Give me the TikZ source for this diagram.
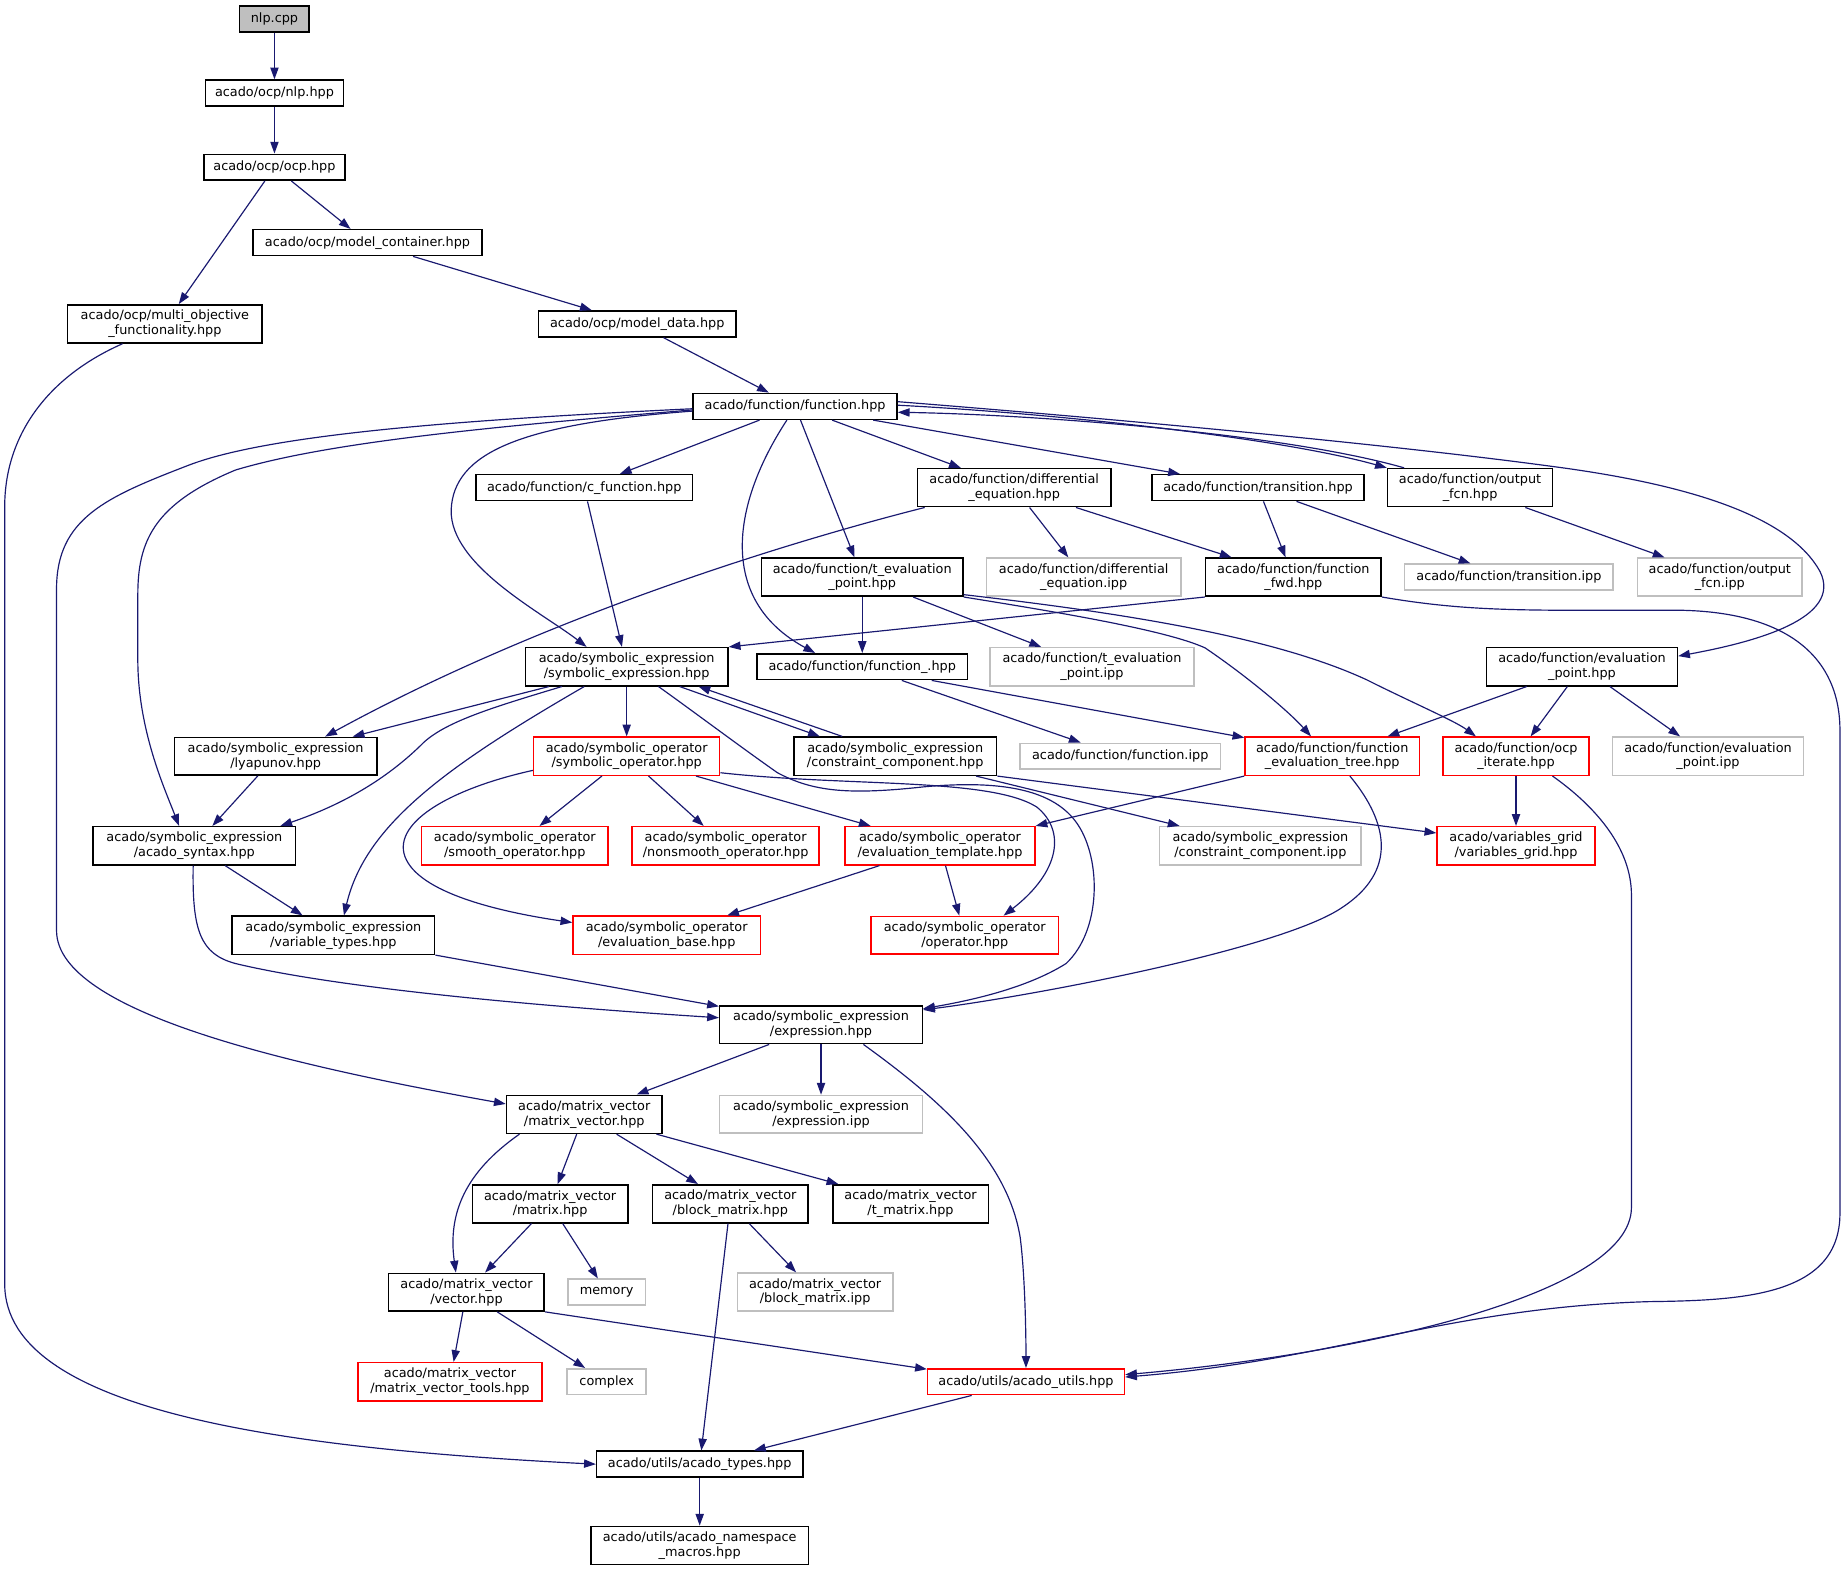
\documentclass[tikz,border=0pt]{standalone}
\usepackage{fontspec}
\setmainfont{DejaVu Sans}
\usetikzlibrary{arrows.meta}
\definecolor{edgeblue}{HTML}{191970}
\definecolor{undoc}{HTML}{BFBFBF}
\definecolor{trunc}{HTML}{FF0000}

\begin{document}
\begin{tikzpicture}[x=1pt, y=-1pt, font=\fontsize{10.9}{12.5}\selectfont,
  hdr/.style={draw=black, line width=1.3pt, align=center, inner xsep=2pt, inner ysep=4.5pt,
    minimum height=22pt, minimum width=#1pt},
  hdrred/.style={hdr=#1, draw=trunc},
  hdrgray/.style={hdr=#1, draw=undoc},
  root/.style={hdr=#1, fill=undoc},
  dep/.style={edgeblue, line width=1pt, -{Triangle[length=10pt,width=7pt]}}]
  \useasboundingbox (0,0) rectangle (1568,1335);
  % files
  \node[root=59] (cpp) at (233,16) {nlp.cpp};
  \node[hdr=117] (nlp) at (233,79) {acado/ocp/nlp.hpp};
  \node[hdr=120] (ocp) at (233,142) {acado/ocp/ocp.hpp};
  \node[hdr=194] (mcont) at (312,206) {acado/ocp/model\_container.hpp};
  \node[hdr=165] (mobj) at (140,275) {acado/ocp/multi\_objective\\\_functionality.hpp};
  \node[hdr=168] (mdata) at (541,275) {acado/ocp/model\_data.hpp};
  \node[hdr=173] (func) at (675,345) {acado/function/function.hpp};
  \node[hdr=184] (cfunc) at (496,414) {acado/function/c\_function.hpp};
  \node[hdr=164] (diffeq) at (861,414) {acado/function/differential\\\_equation.hpp};
  \node[hdr=180] (trans) at (1068,414) {acado/function/transition.hpp};
  \node[hdr=140] (outfcn) at (1248,414) {acado/function/output\\\_fcn.hpp};
  \node[hdrgray=165] (diffipp) at (920,490) {acado/function/differential\\\_equation.ipp};
  \node[hdr=171] (teval) at (732,490) {acado/function/t\_evaluation\\\_point.hpp};
  \node[hdr=149] (ffwd) at (1098,490) {acado/function/function\\\_fwd.hpp};
  \node[hdrgray=177] (transipp) at (1281,490) {acado/function/transition.ipp};
  \node[hdrgray=140] (outipp) at (1460,490) {acado/function/output\\\_fcn.ipp};
  \node[hdr=172] (symexp) at (532,566) {acado/symbolic\_expression\\/symbolic\_expression.hpp};
  \node[hdr=179] (funcu) at (732,566) {acado/function/function\_.hpp};
  \node[hdrgray=173] (tevalipp) at (927,566) {acado/function/t\_evaluation\\\_point.ipp};
  \node[hdr=162] (evalpt) at (1343,566) {acado/function/evaluation\\\_point.hpp};
  \node[hdr=172] (lyap) at (234,642) {acado/symbolic\_expression\\/lyapunov.hpp};
  \node[hdrred=158] (symop) at (532,642) {acado/symbolic\_operator\\/symbolic\_operator.hpp};
  \node[hdr=172] (cons) at (760,642) {acado/symbolic\_expression\\/constraint\_component.hpp};
  \node[hdrgray=170] (funcipp) at (951,642) {acado/function/function.ipp};
  \node[hdrred=148] (ftree) at (1131,642) {acado/function/function\\\_evaluation\_tree.hpp};
  \node[hdrred=124] (ociter) at (1287,642) {acado/function/ocp\\\_iterate.hpp};
  \node[hdrgray=162] (evalipp) at (1450,642) {acado/function/evaluation\\\_point.ipp};
  \node[hdr=172] (syntax) at (165,718) {acado/symbolic\_expression\\/acado\_syntax.hpp};
  \node[hdrred=158] (smooth) at (437,718) {acado/symbolic\_operator\\/smooth\_operator.hpp};
  \node[hdrred=159] (nonsmooth) at (616,718) {acado/symbolic\_operator\\/nonsmooth\_operator.hpp};
  \node[hdrred=161] (evtmpl) at (798,718) {acado/symbolic\_operator\\/evaluation\_template.hpp};
  \node[hdrgray=171] (consipp) at (1070,718) {acado/symbolic\_expression\\/constraint\_component.ipp};
  \node[hdrred=134] (vgrid) at (1287,718) {acado/variables\_grid\\/variables\_grid.hpp};
  \node[hdr=172] (vtypes) at (283,794) {acado/symbolic\_expression\\/variable\_types.hpp};
  \node[hdrred=159] (evbase) at (566,794) {acado/symbolic\_operator\\/evaluation\_base.hpp};
  \node[hdrred=159] (oper) at (819,794) {acado/symbolic\_operator\\/operator.hpp};
  \node[hdr=172] (expr) at (697,870) {acado/symbolic\_expression\\/expression.hpp};
  \node[hdr=132] (mvec) at (496,946) {acado/matrix\_vector\\/matrix\_vector.hpp};
  \node[hdrgray=172] (expripp) at (697,946) {acado/symbolic\_expression\\/expression.ipp};
  \node[hdr=132] (matrix) at (467,1022) {acado/matrix\_vector\\/matrix.hpp};
  \node[hdr=132] (bmat) at (620,1022) {acado/matrix\_vector\\/block\_matrix.hpp};
  \node[hdr=132] (tmat) at (773,1022) {acado/matrix\_vector\\/t\_matrix.hpp};
  \node[hdr=132] (vec) at (396,1097) {acado/matrix\_vector\\/vector.hpp};
  \node[hdrgray=66] (memory) at (515,1097) {memory};
  \node[hdrgray=132] (bmatipp) at (692,1097) {acado/matrix\_vector\\/block\_matrix.ipp};
  \node[hdrred=156] (mvtools) at (382,1173) {acado/matrix\_vector\\/matrix\_vector\_tools.hpp};
  \node[hdrgray=67] (complex) at (515,1173) {complex};
  \node[hdrred=167] (utils) at (871,1173) {acado/utils/acado\_utils.hpp};
  \node[hdr=175] (types) at (594,1243) {acado/utils/acado\_types.hpp};
  \node[hdr=185] (nsmacros) at (594,1312) {acado/utils/acado\_namespace\\\_macros.hpp};

  % ocp chain
  \draw[dep] (cpp) -- (nlp);
  \draw[dep] (nlp) -- (ocp);
  \draw[dep] (ocp) -- (mcont);
  \draw[dep] (ocp) -- (mobj);
  \draw[dep] (mcont) -- (mdata);
  \draw[dep] (mdata) -- (func);
  \draw[dep] ([xshift=-36pt]mobj.south) .. controls (40,320) and (4,370) .. (4,430)
    -- (4,1090) .. controls (4,1200) and (250,1230) .. (types.west);

  % function.hpp
  \draw[dep] (func) -- (cfunc);
  \draw[dep] (func) -- (diffeq);
  \draw[dep] (func) -- (trans);
  \draw[dep] (func) -- (teval);
  \draw[dep] ([yshift=1pt]func.east) .. controls (880,350) and (1080,370) .. (outfcn.north west);
  \draw[dep] ([xshift=-56pt]outfcn.north) .. controls (1090,368) and (880,352) .. ([yshift=-5pt]func.east);
  \draw[dep] ([xshift=-7pt]func.south) .. controls (620,430) and (610,510) .. ([xshift=-40pt]funcu.north);
  \draw[dep] ([yshift=-4pt]func.west) .. controls (440,360) and (385,385) .. (383,433)
    .. controls (382,480) and (460,520) .. ([xshift=-34pt]symexp.north);
  \draw[dep] ([yshift=-3pt]func.west) .. controls (420,362) and (280,375) .. (200,399)
    .. controls (130,428) and (117,460) .. (117,505) -- (117,560)
    .. controls (117,620) and (140,670) .. ([xshift=-13pt]syntax.north);
  \draw[dep] ([yshift=-2pt]func.west) .. controls (400,356) and (230,368) .. (160,395)
    .. controls (90,422) and (48,440) .. (48,500) -- (48,790)
    .. controls (48,860) and (250,905) .. ([yshift=-8pt]mvec.north west);
  \draw[dep] ([yshift=4pt]func.east) .. controls (1000,360) and (1200,380) .. (1318,396)
    .. controls (1440,412) and (1520,440) .. (1545,485)
    .. controls (1565,525) and (1490,545) .. ([yshift=9pt]evalpt.east);

  % second row
  \draw[dep] (cfunc) -- (symexp);
  \draw[dep] ([xshift=-76pt]diffeq.south) .. controls (650,465) and (450,530) .. ([xshift=42pt]lyap.north);
  \draw[dep] (diffeq) -- (diffipp);
  \draw[dep] (diffeq) -- (ffwd);
  \draw[dep] (trans) -- (ffwd);
  \draw[dep] (trans) -- (transipp);
  \draw[dep] (outfcn) -- (outipp);

  % third row
  \draw[dep] (teval) -- (funcu);
  \draw[dep] (teval) -- (tevalipp);
  \draw[dep] (teval.south east) .. controls (900,520) and (990,535) .. (1023,550)
    .. controls (1060,575) and (1095,605) .. ([xshift=-18pt]ftree.north);
  \draw[dep] ([yshift=2pt]teval.south east) .. controls (950,520) and (1080,540) .. (1160,577)
    .. controls (1200,597) and (1235,612) .. ([xshift=-34pt]ociter.north);
  \draw[dep] (ffwd.south west) -- (symexp.north east);
  \draw[dep] (ffwd.south east) .. controls (1250,520) and (1300,518) .. (1420,518)
    .. controls (1520,518) and (1562,560) .. (1562,620) -- (1562,1030)
    .. controls (1562,1100) and (1480,1104) .. (1400,1105)
    .. controls (1230,1110) and (1130,1155) .. ([yshift=4pt]utils.east);

  % symbolic_expression.hpp
  \draw[dep] (symexp) -- (lyap);
  \draw[dep] (symexp) -- (symop);
  \draw[dep] ([xshift=45pt]symexp.south) -- ([xshift=-64pt]cons.north);
  \draw[dep] ([xshift=-45pt]cons.north) -- ([xshift=61pt]symexp.south);
  \draw[dep] ([xshift=-55pt]symexp.south) .. controls (420,600) and (380,612) .. (360,630)
    .. controls (335,655) and (300,680) .. ([xshift=73pt]syntax.north);
  \draw[dep] ([xshift=-36pt]symexp.south) .. controls (380,650) and (310,700) .. ([xshift=9pt]vtypes.north);
  \draw[dep] ([xshift=27pt]symexp.south) .. controls (590,605) and (630,635) .. (660,656)
    .. controls (690,672) and (720,675) .. (784,668)
    .. controls (850,662) and (895,670) .. (915,700)
    .. controls (935,730) and (935,790) .. (905,818)
    .. controls (870,840) and (820,850) .. ([yshift=-3pt]expr.north east);

  % function_.hpp, evaluation_point.hpp
  \draw[dep] (funcu) -- (funcipp);
  \draw[dep] ([xshift=59pt]funcu.south) -- ([yshift=-1pt]ftree.north west);
  \draw[dep] (evalpt) -- (ftree);
  \draw[dep] (evalpt) -- (ociter);
  \draw[dep] (evalpt) -- (evalipp);

  % fourth row
  \draw[dep] (lyap) -- (syntax);
  \draw[dep] (symop) -- (smooth);
  \draw[dep] (symop) -- (nonsmooth);
  \draw[dep] (symop) -- (evtmpl);
  \draw[dep] ([yshift=-12pt]symop.west) .. controls (380,670) and (330,700) .. (345,730)
    .. controls (360,760) and (430,775) .. ([yshift=-6pt]evbase.north west);
  \draw[dep] ([yshift=-14pt]symop.east) .. controls (720,668) and (840,660) .. (880,685)
    .. controls (905,705) and (900,740) .. ([xshift=33pt]oper.north);
  \draw[dep] (cons) -- (consipp);
  \draw[dep] (cons.south east) -- ([yshift=-6pt]vgrid.north west);
  \draw[dep] (ftree.south west) -- (evtmpl.north east);
  \draw[dep] ([xshift=15pt]ftree.south) .. controls (1180,700) and (1185,740) .. (1140,770)
    .. controls (1090,805) and (880,845) .. ([yshift=-4pt]expr.north east);
  \draw[dep] (ociter) -- (vgrid);
  \draw[dep] ([xshift=31pt]ociter.south) .. controls (1355,685) and (1385,720) .. (1385,760)
    -- (1385,1025) .. controls (1385,1100) and (1150,1150) .. ([yshift=6pt]utils.east);

  % lower part
  \draw[dep] (syntax) -- (vtypes);
  \draw[dep] ([xshift=-1pt]syntax.south) .. controls (163,790) and (170,810) .. (200,818)
    .. controls (300,842) and (500,857) .. ([yshift=6pt]expr.west);
  \draw[dep] (evtmpl) -- (evbase);
  \draw[dep] (evtmpl) -- (oper);
  \draw[dep] (vtypes.south east) -- ([yshift=-1pt]expr.north west);
  \draw[dep] (expr) -- (mvec);
  \draw[dep] (expr) -- (expripp);
  \draw[dep] ([xshift=36pt]expr.south) .. controls (800,935) and (855,985) .. (866,1050)
    .. controls (870,1080) and (871,1130) .. (utils.north);
  \draw[dep] (mvec) -- (matrix);
  \draw[dep] (mvec) -- (bmat);
  \draw[dep] (mvec) -- (tmat);
  \draw[dep] ([xshift=-55pt]mvec.south) .. controls (395,995) and (380,1030) .. ([xshift=-9pt]vec.north);
  \draw[dep] (matrix) -- (vec);
  \draw[dep] (matrix) -- (memory);
  \draw[dep] (bmat) -- (bmatipp);
  \draw[dep] (bmat) -- (types);
  \draw[dep] (vec) -- (mvtools);
  \draw[dep] (vec) -- (complex);
  \draw[dep] (vec.south east) -- ([yshift=-1pt]utils.north west);
  \draw[dep] (utils) -- (types);
  \draw[dep] (types) -- (nsmacros);
\end{tikzpicture}
\end{document}
